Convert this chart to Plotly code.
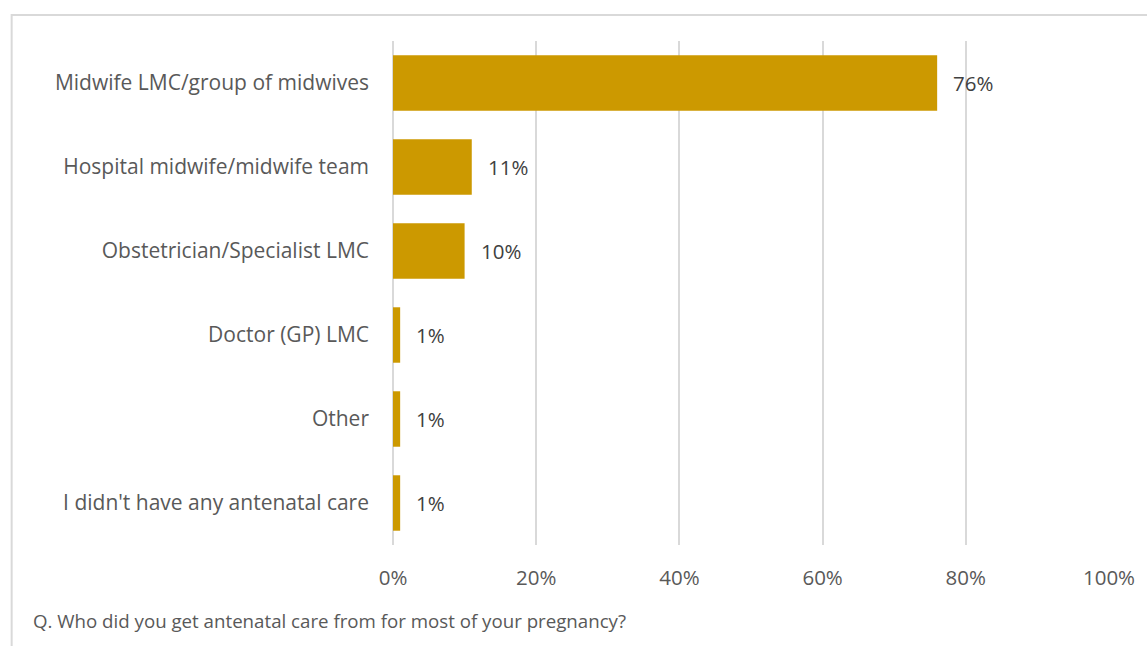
import plotly.graph_objects as go

categories = [
    "Midwife LMC/group of midwives",
    "Hospital midwife/midwife team",
    "Obstetrician/Specialist LMC",
    "Doctor (GP) LMC",
    "Other",
    "I didn't have any antenatal care",
]
shares = [76, 11, 10, 1, 1, 1]
tick_vals = [0, 20, 40, 60, 80, 100]
tick_text = ["0%", "20%", "40%", "60%", "80%", "100%"]
caption = "Q. Who did you get antenatal care from for most of your pregnancy?"

FONT = "Open Sans, sans-serif"
BAR = "#CC9900"
GRID = "#D9D9D9"

W, H = 1147, 646
ml, mr, mt, mb = 393, 33, 41, 101
pw, ph = W - ml - mr, H - mt - mb

fig = go.Figure(
    go.Bar(
        x=shares,
        y=categories,
        orientation="h",
        marker=dict(color=BAR, line=dict(width=0)),
        hoverinfo="skip",
    )
)

# value labels just past each bar end
for c, v in zip(categories, shares):
    fig.add_annotation(
        x=v, y=c, text=f"{v}%", showarrow=False,
        xanchor="left", xshift=14,
        font=dict(family=FONT, size=20.5, color="#404040"),
    )

# caption under the axis
fig.add_annotation(
    xref="paper", yref="paper",
    x=(28 - ml) / pw, y=(H - mb - 620) / ph,
    text=caption, showarrow=False, xanchor="left", yanchor="middle",
    font=dict(family=FONT, size=18.7, color="#595959"),
)

# outer frame of the chart area
fig.add_shape(
    type="rect", xref="paper", yref="paper",
    x0=(9 - ml) / pw, x1=(W + 20 - ml) / pw,
    y0=(H - mb - (H + 20)) / ph, y1=(H - mb - 15) / ph,
    line=dict(color=GRID, width=2), fillcolor="rgba(0,0,0,0)", layer="below",
)

fig.update_layout(
    width=W, height=H,
    margin=dict(l=ml, r=mr, t=mt, b=mb, pad=0),
    paper_bgcolor="white", plot_bgcolor="white",
    bargap=0.34,
    showlegend=False,
    font=dict(family=FONT, color="#595959"),
    xaxis=dict(
        range=[0, 100], tickvals=tick_vals, ticktext=tick_text,
        showgrid=True, gridcolor=GRID, gridwidth=1.5,
        zeroline=True, zerolinecolor=GRID, zerolinewidth=1.5,
        showline=False, ticks="", ticklabelstandoff=18,
        tickfont=dict(family=FONT, size=20.5, color="#595959"),
        fixedrange=True,
    ),
    yaxis=dict(
        categoryorder="array", categoryarray=categories[::-1],
        showgrid=False, showline=False, ticks="",
        ticklabelstandoff=23,
        tickfont=dict(family=FONT, size=21, color="#595959"),
        fixedrange=True,
    ),
)

fig.write_html("out.html")
